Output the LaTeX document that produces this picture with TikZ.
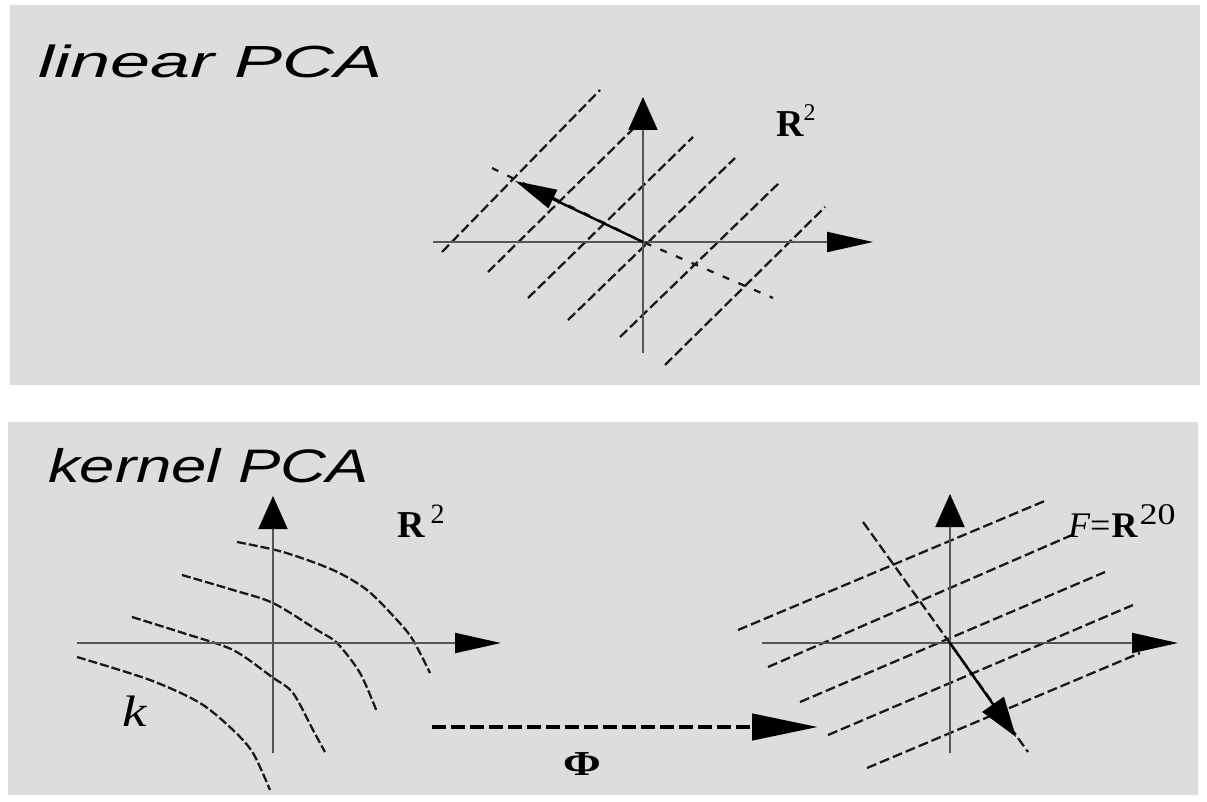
\documentclass[tikz,border=0pt]{standalone}
\usepackage{fontspec}
\usetikzlibrary{arrows.meta}
\newfontfamily\titlefont{Liberation Sans}
\newfontfamily\serf{Liberation Serif}
\definecolor{panelgray}{RGB}{221,221,221}
\definecolor{axisgray}{RGB}{85,85,85}
\tikzset{
  panel/.style={fill=panelgray,draw=none},
  axis/.style={line width=2pt,draw=axisgray},
  varrow/.style={-{Triangle[length=33pt,width=29pt,color=black]}},
  harrow/.style={-{Triangle[length=46pt,width=20pt,color=black]}},
  hatch/.style={line width=2.3pt,draw=black!90,dash pattern=on 10pt off 4pt},
  curve/.style={line width=2.3pt,draw=black!90,dash pattern=on 9pt off 3pt},
  sparse/.style={line width=2.3pt,draw=black!90,dash pattern=on 7pt off 10pt},
  pcarrow/.style={line width=2.4pt,draw=black},
  lbl/.style={inner sep=0pt,anchor=base west}
}
\begin{document}
\begin{tikzpicture}[x=1pt,y=-1pt]
\useasboundingbox (0,0) rectangle (1207,802);
\fill[white] (0,0) rectangle (1207,802);
% panels
\fill[panel] (10,5) rectangle (1200,385);
\fill[panel] (8,422) rectangle (1198,795);

% ---------- top panel ----------
\node[lbl] (tlin) at (38,78) {\scalebox{1.6}[1]{\fontsize{45}{50}\selectfont\titlefont\itshape linear PCA}};

% hatch lines
\draw[hatch] (442,252) -- (600,90);
\draw[hatch] (488,272) -- (637,125);
\draw[hatch] (528,298) -- (693,137);
\draw[hatch] (568,320) -- (735,158);
\draw[hatch] (620,337) -- (780,182);
\draw[hatch] (665,365) -- (825,207);

% axes
\coordinate (O1) at (643,242);
\coordinate (v1s) at (643,353);
\coordinate (v1e) at (643,97);
\coordinate (h1s) at (433,242);
\coordinate (h1e) at (873,242);
\draw[axis,varrow] (v1s) -- (v1e);
\draw[axis,harrow] (h1s) -- (h1e);

% principal direction
\coordinate (d1a) at (492,168);
\coordinate (d1b) at (773,298);
\coordinate (p1) at (515,181);
\draw[sparse] (d1a) -- (O1) -- (d1b);
\draw[pcarrow,-{Triangle[length=42pt,width=20pt]}] (O1) -- (p1);

\node[lbl] (tR) at (776,137) {\fontsize{38}{42}\selectfont\serf\bfseries R\raisebox{16pt}{\fontsize{24}{26}\selectfont\mdseries 2}};

% ---------- bottom panel ----------
\node[lbl] (tker) at (48,482) {\scalebox{1.35}[1]{\fontsize{47}{52}\selectfont\titlefont\itshape kernel PCA}};

% curves (input space)
\draw[curve] plot[smooth] coordinates {(237,542) (283,552) (333,570) (367,590) (397,620) (413,640) (430,673)};
\draw[curve] plot[smooth] coordinates {(182,575) (233,590) (273,603) (317,630) (337,643) (360,673) (377,712)};
\draw[curve] plot[smooth] coordinates {(132,617) (183,633) (233,650) (272,677) (293,693) (313,730) (325,752)};
\draw[curve] plot[smooth] coordinates {(77,657) (150,680) (200,703) (233,730) (253,753) (270,790)};

\coordinate (v2s) at (273,753);
\coordinate (v2e) at (273,496);
\coordinate (h2s) at (77,643);
\coordinate (h2e) at (501,643);
\draw[axis,varrow] (v2s) -- (v2e);
\draw[axis,harrow] (h2s) -- (h2e);

\node[lbl] (bR) at (397,537) {\fontsize{38}{42}\selectfont\serf\bfseries R\hspace{6pt}\raisebox{14pt}{\fontsize{28}{30}\selectfont\mdseries 2}};
\node[lbl] (kk) at (122,726) {\scalebox{1.25}[1]{\fontsize{44}{48}\selectfont\serf\itshape k}};

% feature space hatch lines
\draw[hatch] (738,630) -- (1047,500);
\draw[hatch] (768,667) -- (1072,535);
\draw[hatch] (800,702) -- (1105,572);
\draw[hatch] (828,735) -- (1133,605);
\draw[hatch] (867,768) -- (1140,653);

\coordinate (O3) at (950,643);
\coordinate (v3s) at (950,753);
\coordinate (v3e) at (950,494);
\coordinate (h3s) at (762,643);
\coordinate (h3e) at (1178,643);
\draw[axis,varrow] (v3s) -- (v3e);
\draw[axis,harrow] (h3s) -- (h3e);

\coordinate (d3a) at (863,522);
\coordinate (d3b) at (1028,752);
\coordinate (p3) at (1016,737);
\draw[hatch] (d3a) -- (d3b);
\draw[pcarrow,-{Triangle[length=40pt,width=26pt]}] (O3) -- (p3);

\node[lbl] (FR) at (1068,537) {\fontsize{36}{40}\selectfont\serf{\itshape F}=\kern1pt{\bfseries R}\kern2pt\raisebox{13pt}{\scalebox{1.2}[1]{\fontsize{30}{32}\selectfont 20}}};

% Phi map
\coordinate (m1) at (432,727);
\coordinate (m2) at (818,727);
\draw[line width=4.5pt,draw=black,dash pattern=on 14pt off 5pt,-{Triangle[length=66pt,width=26pt]}] (m1) -- (m2);
\node[lbl] (phi) at (563,775) {\scalebox{1.3}[1]{\fontsize{35}{38}\selectfont\serf\bfseries Φ}};
\end{tikzpicture}
\end{document}
